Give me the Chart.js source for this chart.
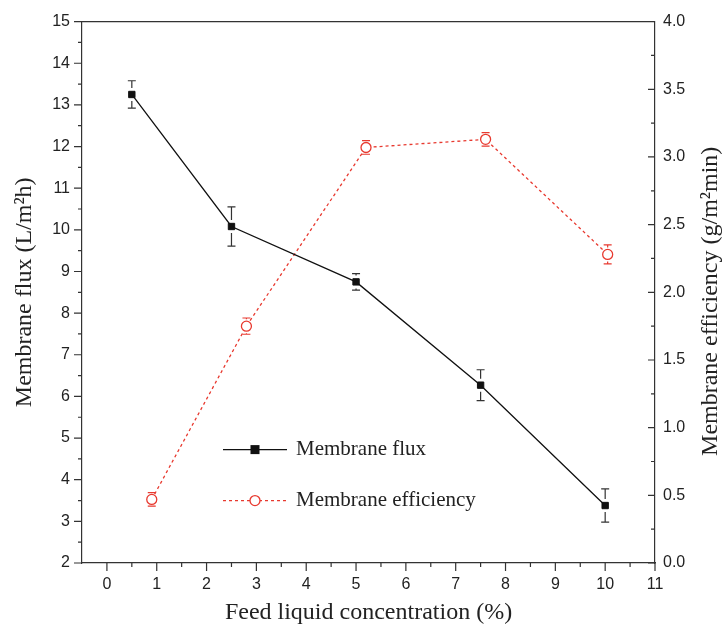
<!DOCTYPE html>
<html>
<head>
<meta charset="utf-8">
<script src="https://cdn.jsdelivr.net/npm/chart.js@4.4.1/dist/chart.umd.min.js"></script>
<style>
  html, body { margin: 0; padding: 0; background: #fff; }
  canvas { display: block; }
</style>
</head>
<body>
<canvas id="chart" width="722" height="627"></canvas>
<script>
// tick labels
const xTicks = [0, 1, 2, 3, 4, 5, 6, 7, 8, 9, 10, 11];
const fluxTicks = [2, 3, 4, 5, 6, 7, 8, 9, 10, 11, 12, 13, 14, 15];
const effTicks = [0, 0.5, 1, 1.5, 2, 2.5, 3, 3.5, 4];

// Membrane flux (L/m2h)
const fluxX = [0.5, 2.5, 5, 7.5, 10];
const fluxY = [13.25, 10.08, 8.75, 6.27, 3.38];
const fluxErr = [0.33, 0.47, 0.2, 0.37, 0.4];

// Membrane efficiency (g/m2min)
const effX = [0.9, 2.8, 5.2, 7.6, 10.05];
const effY = [0.47, 1.75, 3.07, 3.13, 2.28];
const effErr = [0.05, 0.06, 0.05, 0.05, 0.07];

const AXIS = '#333';
const RED = '#e8392f';
const TICK_FONT = { family: 'Liberation Sans', size: 16 };
const TITLE_FONT = { family: 'Liberation Serif', size: 24 };

function toPoints(xs, ys) {
  return xs.map((x, i) => ({ x, y: ys[i] }));
}

function midpoints(ticks) {
  const out = [];
  for (let i = 0; i < ticks.length - 1; i++) out.push((ticks[i] + ticks[i + 1]) / 2);
  return out;
}

// error bars, drawn under the markers
const errorBars = {
  id: 'errorBars',
  beforeDatasetsDraw(chart) {
    const ctx = chart.ctx;
    chart.data.datasets.forEach((ds, di) => {
      const yScale = chart.scales[ds.yAxisID];
      const xScale = chart.scales.x;
      ctx.save();
      ctx.strokeStyle = ds.errColor;
      ctx.lineWidth = 1.2;
      ds.data.forEach((p, i) => {
        const px = xScale.getPixelForValue(p.x);
        const py = yScale.getPixelForValue(p.y);
        const top = yScale.getPixelForValue(p.y + ds.err[i]);
        const bot = yScale.getPixelForValue(p.y - ds.err[i]);
        const gap = ds.pointRadius + 2;
        ctx.beginPath();
        if (py - gap > top) { ctx.moveTo(px, top); ctx.lineTo(px, py - gap); }
        if (py + gap < bot) { ctx.moveTo(px, py + gap); ctx.lineTo(px, bot); }
        ctx.moveTo(px - 4, top); ctx.lineTo(px + 4, top);
        ctx.moveTo(px - 4, bot); ctx.lineTo(px + 4, bot);
        ctx.stroke();
      });
      ctx.restore();
    });
  }
};

// frame top, major/minor ticks, right title, legend
const decorations = {
  id: 'decorations',
  afterDraw(chart) {
    const ctx = chart.ctx;
    const a = chart.chartArea;
    const { x, y, y1 } = chart.scales;
    ctx.save();
    ctx.strokeStyle = AXIS;
    ctx.lineWidth = 1.2;
    ctx.beginPath();
    ctx.moveTo(a.left, a.top); ctx.lineTo(a.right, a.top);
    xTicks.forEach(v => { const p = x.getPixelForValue(v); ctx.moveTo(p, a.bottom); ctx.lineTo(p, a.bottom + 8); });
    midpoints(xTicks).forEach(v => { const p = x.getPixelForValue(v); ctx.moveTo(p, a.bottom); ctx.lineTo(p, a.bottom + 4); });
    fluxTicks.forEach(v => { const p = y.getPixelForValue(v); ctx.moveTo(a.left - 8, p); ctx.lineTo(a.left, p); });
    midpoints(fluxTicks).forEach(v => { const p = y.getPixelForValue(v); ctx.moveTo(a.left - 4, p); ctx.lineTo(a.left, p); });
    effTicks.forEach(v => { const p = y1.getPixelForValue(v); ctx.moveTo(a.right - 7, p); ctx.lineTo(a.right, p); });
    midpoints(effTicks).forEach(v => { const p = y1.getPixelForValue(v); ctx.moveTo(a.right - 4, p); ctx.lineTo(a.right, p); });
    ctx.stroke();

    // right axis title reads bottom-to-top
    ctx.fillStyle = '#222';
    ctx.font = TITLE_FONT.size + 'px "' + TITLE_FONT.family + '"';
    ctx.textAlign = 'center';
    ctx.textBaseline = 'middle';
    ctx.translate(711, (a.top + a.bottom) / 2 + 9);
    ctx.rotate(-Math.PI / 2);
    ctx.fillText('Membrane efficiency (g/m\u00b2min)', 0, 0);
    ctx.restore();

    // legend
    ctx.save();
    const rows = [a.top + 428, a.top + 479];
    chart.data.datasets.forEach((ds, i) => {
      const ly = rows[i];
      const x0 = a.left + 141, x1 = a.left + 205, xm = (x0 + x1) / 2;
      ctx.strokeStyle = ds.borderColor;
      ctx.lineWidth = ds.borderWidth;
      ctx.setLineDash(ds.borderDash || []);
      ctx.beginPath(); ctx.moveTo(x0, ly); ctx.lineTo(x1, ly); ctx.stroke();
      ctx.setLineDash([]);
      ctx.lineWidth = ds.pointBorderWidth;
      ctx.strokeStyle = ds.pointBorderColor;
      ctx.fillStyle = ds.pointBackgroundColor;
      if (ds.pointStyle === 'rect') {
        ctx.fillRect(xm - 4.5, ly - 4.5, 9, 9);
      } else {
        ctx.beginPath(); ctx.arc(xm, ly, ds.pointRadius, 0, Math.PI * 2); ctx.fill(); ctx.stroke();
      }
      ctx.fillStyle = '#222';
      ctx.font = '21px "Liberation Serif"';
      ctx.textAlign = 'left';
      ctx.textBaseline = 'middle';
      ctx.fillText(ds.label, x1 + 9, ly);
    });
    ctx.restore();
  }
};

new Chart(document.getElementById('chart'), {
  type: 'line',
  data: {
    datasets: [
      {
        label: 'Membrane flux',
        data: toPoints(fluxX, fluxY),
        err: fluxErr,
        errColor: AXIS,
        yAxisID: 'y',
        borderColor: '#111',
        borderWidth: 1.3,
        pointStyle: 'rect',
        pointRadius: 4.5,
        pointBackgroundColor: '#111',
        pointBorderColor: '#111',
        pointBorderWidth: 1,
        tension: 0,
      },
      {
        label: 'Membrane efficiency',
        data: toPoints(effX, effY),
        err: effErr,
        errColor: RED,
        yAxisID: 'y1',
        borderColor: RED,
        borderWidth: 1.3,
        borderDash: [3, 3],
        pointStyle: 'circle',
        pointRadius: 5,
        pointBackgroundColor: '#fff',
        pointBorderColor: RED,
        pointBorderWidth: 1.3,
        tension: 0,
      },
    ],
  },
  options: {
    responsive: false,
    animation: false,
    devicePixelRatio: 1,
    layout: { padding: { top: 19, left: 0, right: 0, bottom: 0 } },
    plugins: { legend: { display: false }, tooltip: { enabled: false } },
    scales: {
      x: {
        type: 'linear',
        min: -0.5,
        max: 11,
        afterBuildTicks: s => { s.ticks = xTicks.map(v => ({ value: v })); },
        afterFit: s => { s.height = 64; },
        ticks: { font: TICK_FONT, color: '#222', padding: 12, maxRotation: 0 },
        grid: { drawOnChartArea: false, drawTicks: false },
        border: { color: AXIS, width: 1.2 },
        title: { display: true, text: 'Feed liquid concentration (%)', font: TITLE_FONT, color: '#222', padding: { top: 0, bottom: 0 } },
      },
      y: {
        position: 'left',
        min: 2,
        max: 15,
        afterBuildTicks: s => { s.ticks = fluxTicks.map(v => ({ value: v })); },
        afterFit: s => { s.width = 82; },
        ticks: { font: TICK_FONT, color: '#222', padding: 12 },
        grid: { drawOnChartArea: false, drawTicks: false },
        border: { color: AXIS, width: 1.2 },
        title: { display: true, text: 'Membrane flux (L/m\u00b2h)', font: TITLE_FONT, color: '#222', padding: { top: 10, bottom: 0 } },
      },
      y1: {
        position: 'right',
        min: 0,
        max: 4,
        afterBuildTicks: s => { s.ticks = effTicks.map(v => ({ value: v })); },
        afterFit: s => { s.width = 67; },
        ticks: { font: TICK_FONT, color: '#222', padding: 8, callback: v => v.toFixed(1) },
        grid: { drawOnChartArea: false, drawTicks: false },
        border: { color: AXIS, width: 1.2 },
      },
    },
  },
  plugins: [errorBars, decorations],
});
</script>
</body>
</html>
